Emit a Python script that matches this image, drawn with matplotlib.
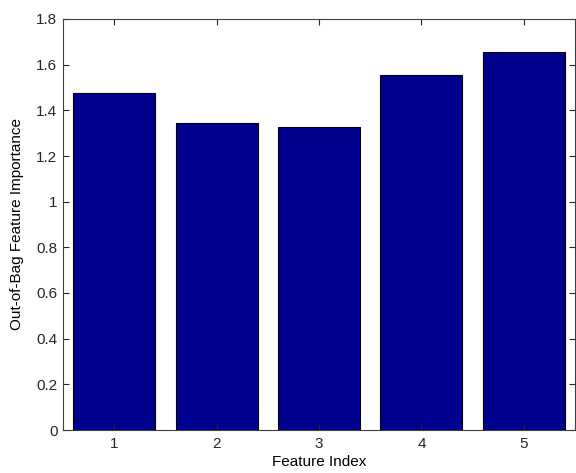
import matplotlib
matplotlib.use("Agg")
import matplotlib.pyplot as plt

features = [1, 2, 3, 4, 5]
importance = [1.475, 1.343, 1.327, 1.555, 1.654]
yticks = [0, 0.2, 0.4, 0.6, 0.8, 1, 1.2, 1.4, 1.6, 1.8]
ytick_labels = ["0", "0.2", "0.4", "0.6", "0.8", "1", "1.2", "1.4", "1.6", "1.8"]

plt.rcParams['font.family'] = ['Liberation Sans', 'DejaVu Sans']
fig = plt.figure(figsize=(5.76, 4.73), dpi=100)
ax = fig.add_axes([63/576, 43/473, 512/576, 411/473])
ax.bar(features, importance, width=0.8, color='#00008F', edgecolor='black', linewidth=0.8)
ax.set_xlim(0.5, 5.5)
ax.set_ylim(0, 1.8)
ax.set_xticks(features)
ax.set_yticks(yticks)
ax.set_yticklabels(ytick_labels)
ax.tick_params(direction='in', length=4, top=True, right=True, labelsize=11, colors='#262626', width=0.8)
ax.tick_params(axis='x', pad=5)
ax.tick_params(axis='y', pad=4)
for s in ax.spines.values():
    s.set_color('#404040')
    s.set_linewidth(0.8)
ax.set_xlabel('Feature Index', fontsize=11, labelpad=3)
ax.set_ylabel('Out-of-Bag Feature Importance', fontsize=11, labelpad=9)
fig.savefig('out.png', dpi=100)
